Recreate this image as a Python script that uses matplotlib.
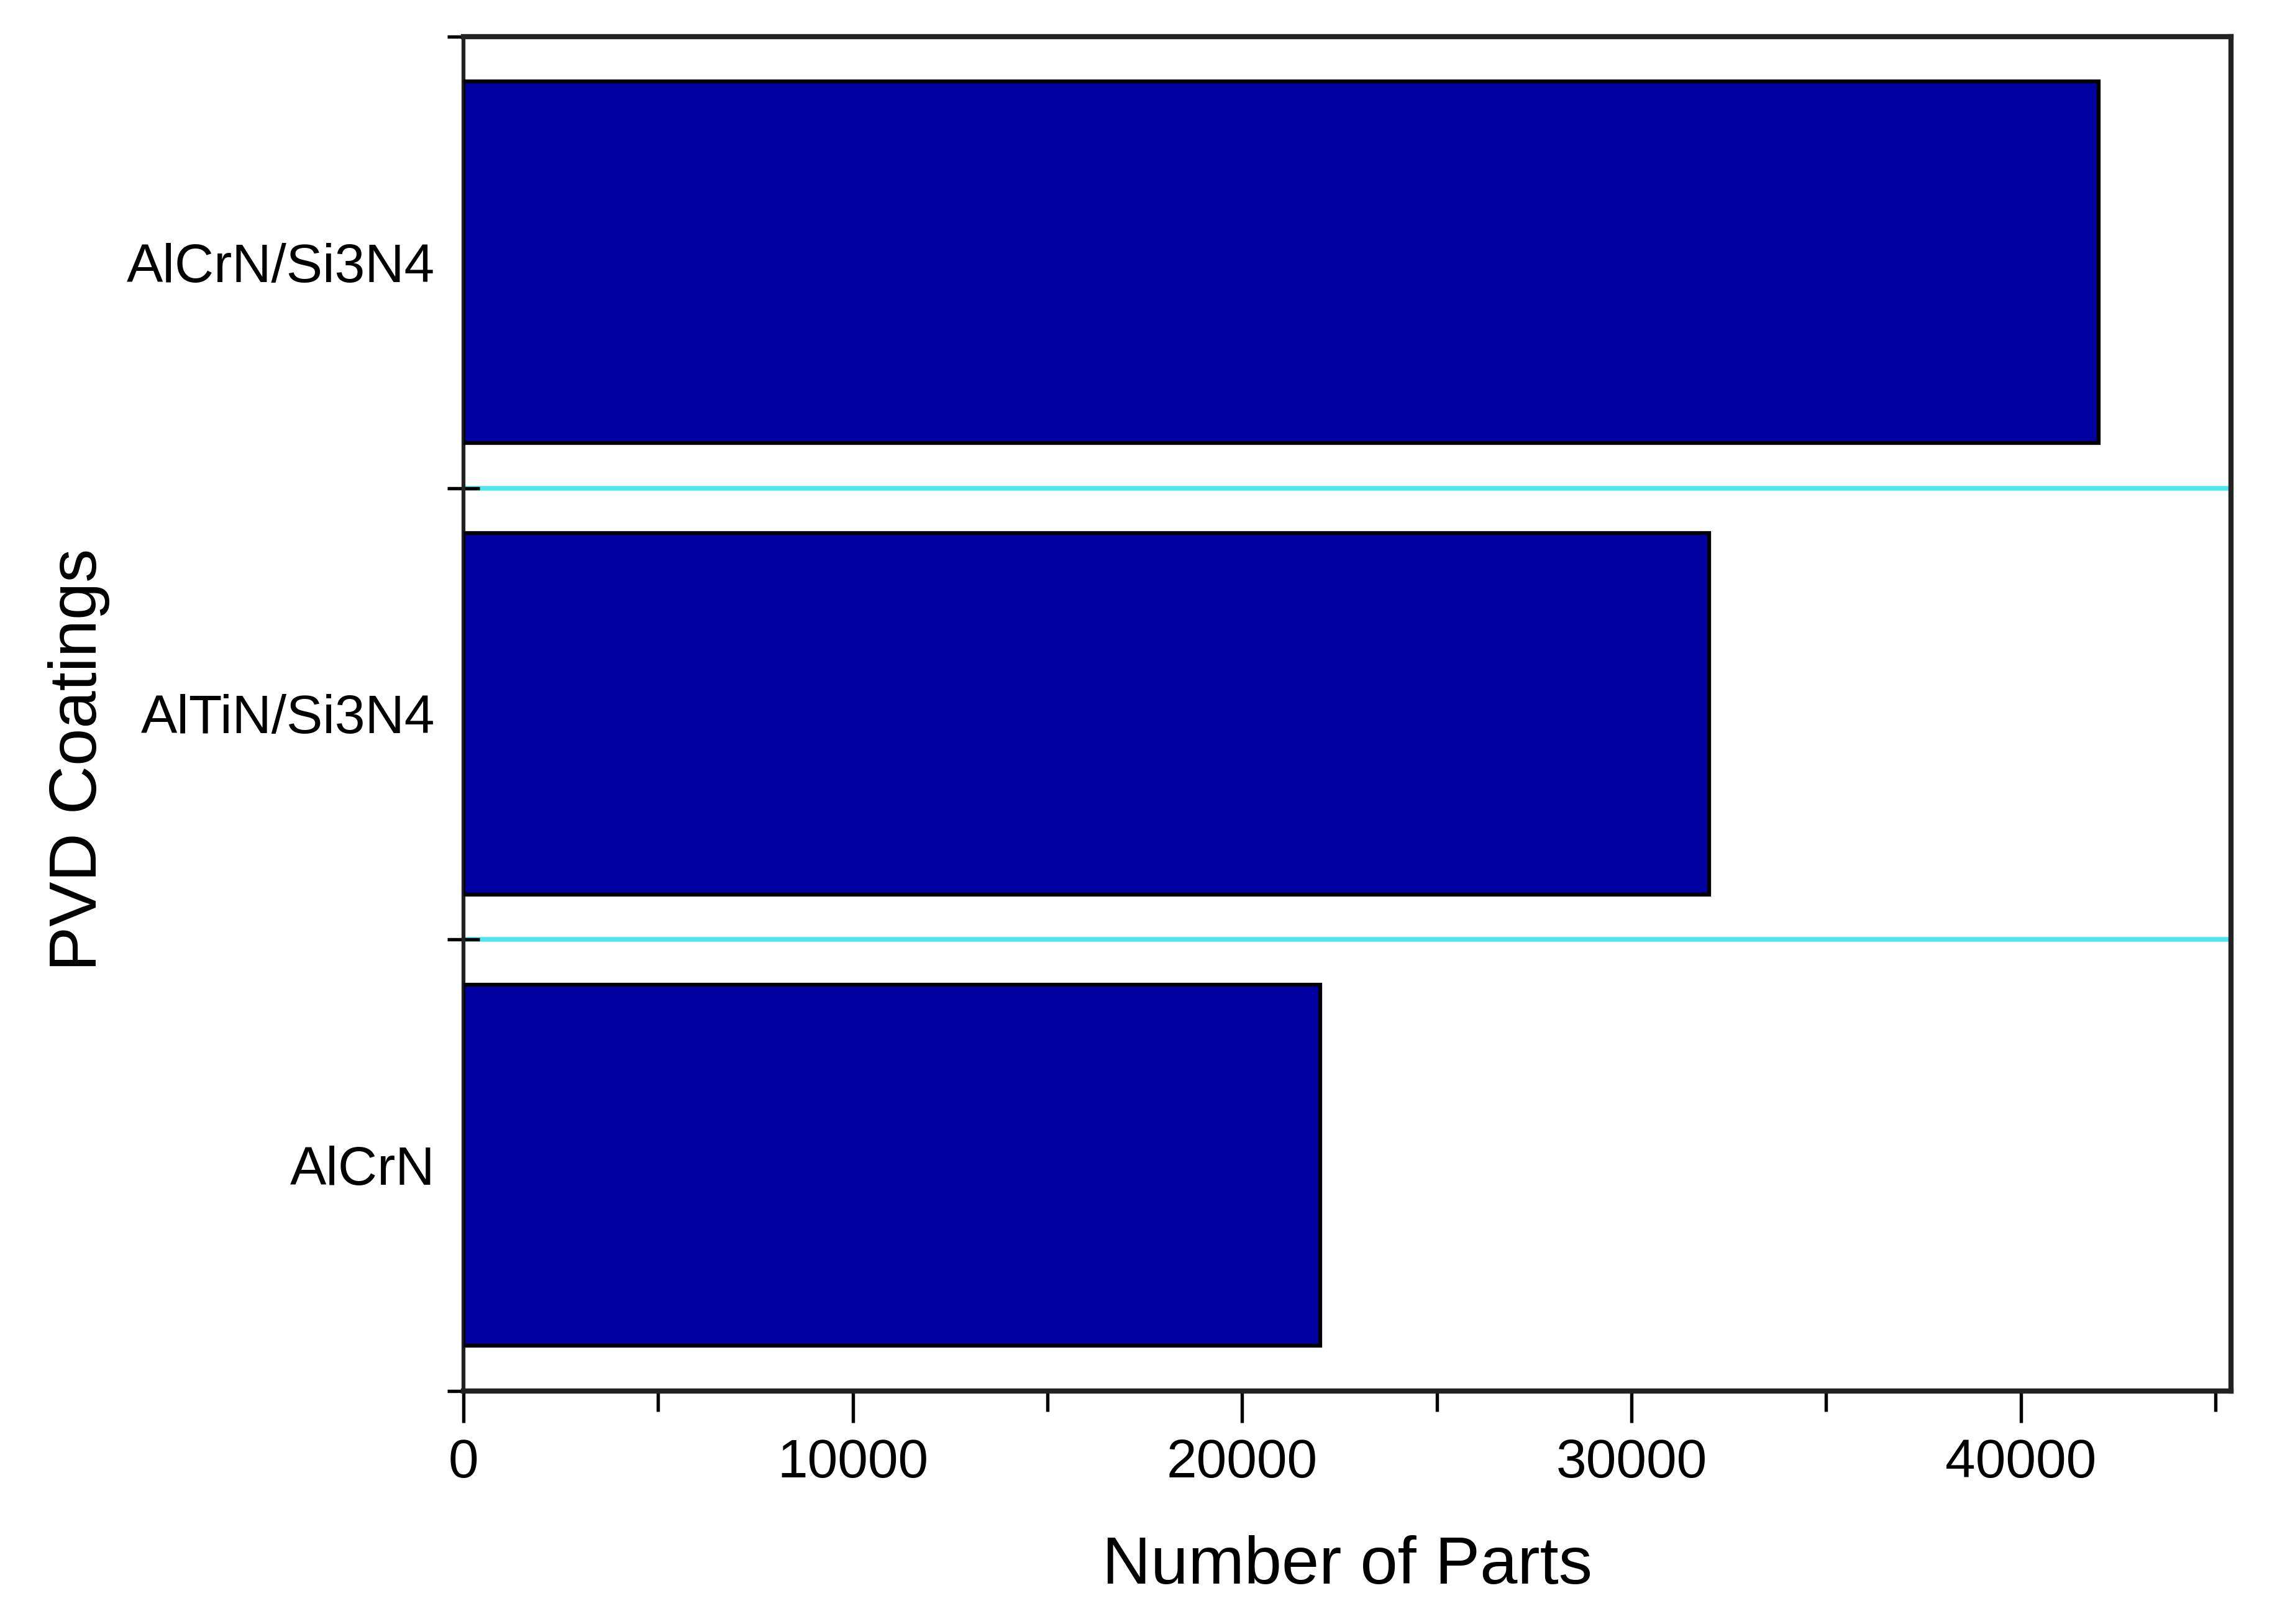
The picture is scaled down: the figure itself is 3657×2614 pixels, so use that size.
import matplotlib
matplotlib.use("Agg")
import matplotlib.pyplot as plt
from matplotlib.ticker import MultipleLocator, FixedLocator, NullFormatter

plt.rcParams['font.family'] = ['Liberation Sans', 'DejaVu Sans']

# data
coatings = ["AlCrN", "AlTiN/Si3N4", "AlCrN/Si3N4"]
parts = [22000, 32000, 42000]

bar_color = "#0000A2"
grid_color = "#4FE6EE"

fig = plt.figure(figsize=(3657 / 300, 2614 / 300), dpi=300)
ax = fig.add_axes([0.204, 0.1435, 0.778, 0.834])

ypos = list(range(len(coatings)))
ax.barh(ypos, parts, height=0.8, color=bar_color, edgecolor="black",
        linewidth=1.5, zorder=3)

ax.set_xlim(0, 45400)
ax.set_ylim(-0.5, len(coatings) - 0.5)

# x axis: major every 10000, minor every 5000, ticks pointing out
ax.xaxis.set_major_locator(MultipleLocator(10000))
ax.xaxis.set_minor_locator(MultipleLocator(5000))
ax.tick_params(axis='x', which='major', direction='out', length=12.3,
               width=1.3, pad=6, labelsize=21)
ax.tick_params(axis='x', which='minor', direction='out', length=8,
               width=1.3)

# y axis: ticks at the category boundaries, labels at the centres
ax.yaxis.set_major_locator(FixedLocator([i - 0.5 for i in range(len(coatings) + 1)]))
ax.yaxis.set_major_formatter(NullFormatter())
ax.yaxis.set_minor_locator(FixedLocator(ypos))
ax.set_yticklabels(coatings, minor=True)
ax.tick_params(axis='y', which='major', direction='inout', length=12.5,
               width=1.3)
ax.tick_params(axis='y', which='minor', length=0, pad=11, labelsize=21)
ax.tick_params(top=False, right=False)

ax.grid(axis='y', which='major', color=grid_color, linewidth=1.8, zorder=1)
ax.set_axisbelow(True)

for side in ["top", "bottom", "left", "right"]:
    ax.spines[side].set_linewidth(2.0)
    ax.spines[side].set_color("#222222")
ax.spines["left"].set_linewidth(1.5)

ax.set_xlabel("Number of Parts", fontsize=26, labelpad=18)
ax.set_ylabel("PVD Coatings", fontsize=26)
ax.yaxis.set_label_coords(-0.200, 0.466)

fig.savefig("out.png", dpi=300, facecolor="white")
